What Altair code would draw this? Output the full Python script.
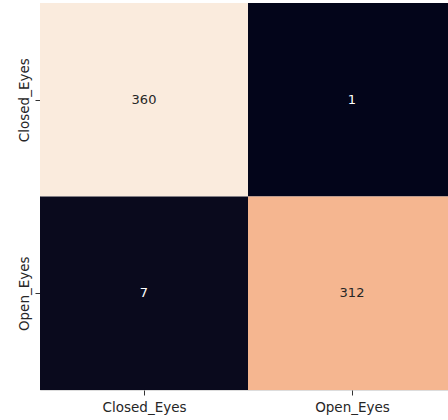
import altair as alt
import pandas as pd

labels = ["Closed_Eyes", "Open_Eyes"]
row_0 = [360, 1]
row_1 = [7, 312]
matrix = [row_0, row_1]

records = []
for i, tl in enumerate(labels):
    for j, pl in enumerate(labels):
        records.append({"true": tl, "pred": pl, "ri": i, "ci": j, "value": matrix[i][j]})
df = pd.DataFrame(records)

W = 408
H = 387
cell_w = 208
xmax = W / cell_w

base = alt.Chart(df).transform_calculate(
    x0="datum.ci", x1="datum.ci + 1", y0="datum.ri", y1="datum.ri + 1",
    xm="datum.ci + 0.5", ym="datum.ri + 0.5",
    txtcol="datum.value > 180 ? 'dark' : 'light'",
)

xscale = alt.Scale(domain=[0, xmax], nice=False, zero=False)
yscale = alt.Scale(domain=[0, 2], reverse=True, nice=False, zero=False)

xaxis = alt.Axis(
    values=[0.5, 1.5], labelExpr="datum.value < 1 ? 'Closed_Eyes' : 'Open_Eyes'",
    title=None, grid=False, domain=False, tickSize=5, tickColor="#333333",
    labelFont="DejaVu Sans", labelFontSize=13.5, labelColor="#262626", labelPadding=5,
)
yaxis = alt.Axis(
    values=[0.5, 1.5], labelExpr="datum.value < 1 ? 'Closed_Eyes' : 'Open_Eyes'",
    title=None, grid=False, domain=False, tickSize=5, tickColor="#333333",
    labelFont="DejaVu Sans", labelFontSize=13.5, labelColor="#262626", labelPadding=4,
    labelAngle=270, labelAlign="center", labelBaseline="bottom",
)

rects = base.mark_rect(clip=True).encode(
    x=alt.X("x0:Q", scale=xscale, axis=xaxis),
    x2="x1:Q",
    y=alt.Y("y0:Q", scale=yscale, axis=yaxis),
    y2="y1:Q",
    color=alt.Color("value:Q", legend=None, scale=alt.Scale(
        domain=[1, 312, 360], range=["#03051a", "#f5b690", "#faebdd"])),
)

texts = base.mark_text(font="DejaVu Sans", fontSize=13, clip=True).encode(
    x=alt.X("xm:Q", scale=xscale),
    y=alt.Y("ym:Q", scale=yscale),
    text="value:Q",
    color=alt.Color("txtcol:N", legend=None, scale=alt.Scale(
        domain=["dark", "light"], range=["#262626", "#ffffff"])),
)

chart = alt.layer(rects, texts).properties(
    width=W, height=H,
    autosize=alt.AutoSizeParams(type="none"),
    padding={"left": 40, "top": 3, "right": 0, "bottom": 30},
).configure_view(stroke=None).configure(background="white")

chart.save("out.html", embed_options={"renderer": "svg", "actions": False})
